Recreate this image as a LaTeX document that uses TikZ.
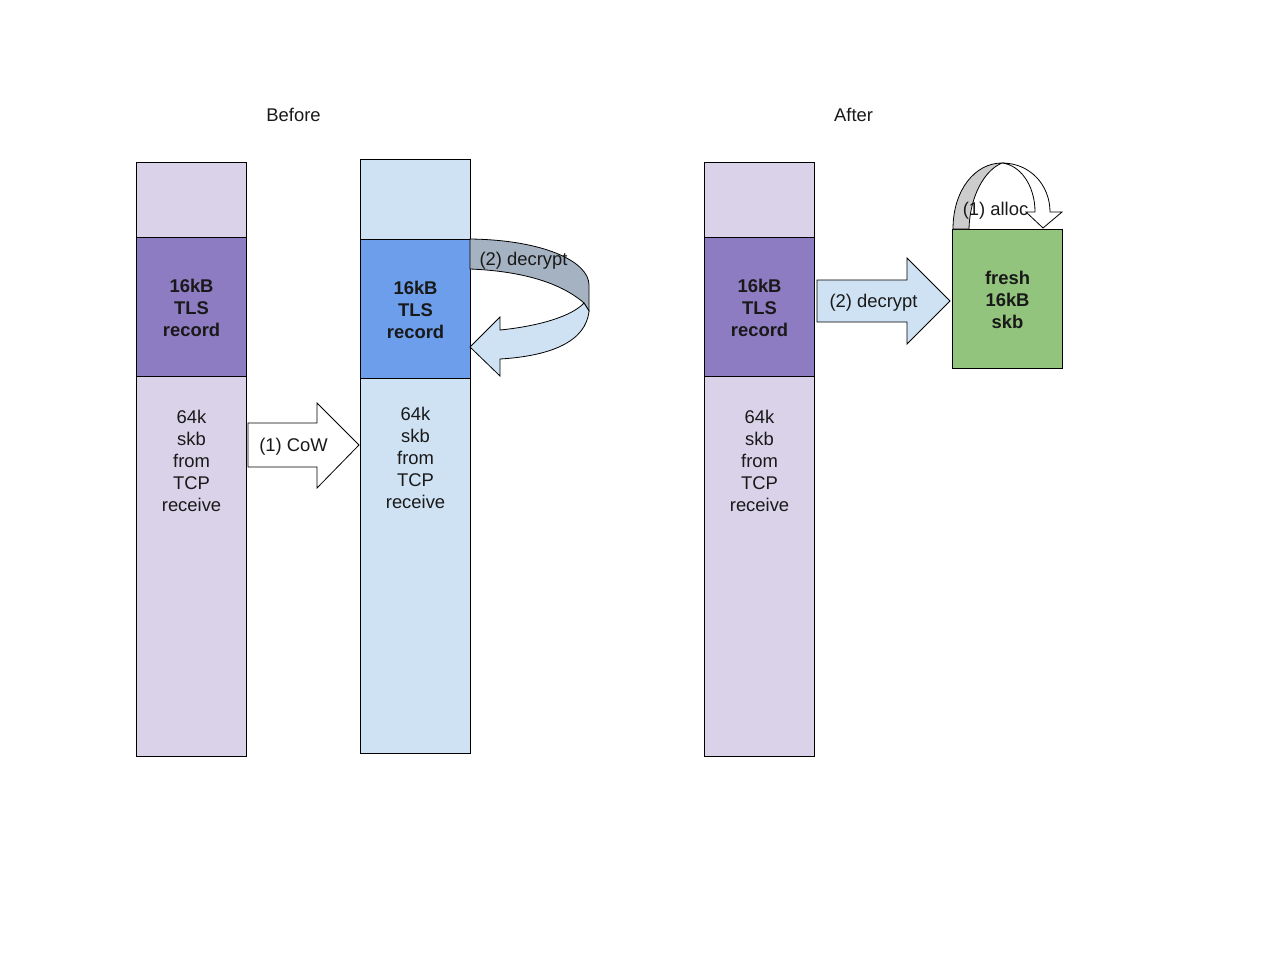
\documentclass[tikz,border=0pt]{standalone}
\usepackage{fontspec}
\setmainfont{Liberation Sans}
\begin{document}
\begin{tikzpicture}[x=0.75pt,y=-0.75pt,
  every node/.style={font=\fontsize{13.8pt}{16.5pt}\selectfont, text=black!90},
  seg/.style={draw=black, line width=0.6pt, anchor=north west, minimum width=82.5pt, inner sep=0pt},
  lbl/.style={align=center, inner sep=0pt, xshift=0.4pt, yshift=-0.5pt},
  blbl/.style={align=center, inner sep=0pt, xshift=0.4pt, yshift=-0.5pt, font=\fontsize{13.8pt}{16.5pt}\selectfont\bfseries},
  shp/.style={draw=black, line width=0.6pt, line join=miter}]
\useasboundingbox (0,0) rectangle (1280,960);
\definecolor{lpurple}{HTML}{D9D2E9}
\definecolor{dpurple}{HTML}{8E7CC3}
\definecolor{lblue}{HTML}{CFE2F3}
\definecolor{mblue}{HTML}{6D9EEB}
\definecolor{lgreen}{HTML}{93C47D}
\definecolor{bgray}{HTML}{A4B2C1}
\definecolor{lgray}{HTML}{CCCCCC}

\node[lbl] (before) at (293,114) {Before};
\node[lbl] (after) at (853,114) {After};

% column 1
\node[seg, fill=lpurple, minimum height=56.25pt] (c1t) at (136,162) {};
\node[seg, fill=dpurple, minimum height=104.25pt] (c1m) at (136,237) {};
\node[seg, fill=lpurple, minimum height=285pt] (c1b) at (136,376) {};
\node[blbl] (c1mt) at (191,307) {16kB\\TLS\\record};
\node[lbl] (c1bt) at (191,460) {64k\\skb\\from\\TCP\\receive};

% column 2
\node[seg, fill=lblue, minimum height=60pt] (c2t) at (360,159) {};
\node[seg, fill=mblue, minimum height=104.25pt] (c2m) at (360,239) {};
\node[seg, fill=lblue, minimum height=281.25pt] (c2b) at (360,378) {};
\node[blbl] (c2mt) at (415,309) {16kB\\TLS\\record};
\node[lbl] (c2bt) at (415,457) {64k\\skb\\from\\TCP\\receive};

% column 3
\node[seg, fill=lpurple, minimum height=56.25pt] (c3t) at (704,162) {};
\node[seg, fill=dpurple, minimum height=104.25pt] (c3m) at (704,237) {};
\node[seg, fill=lpurple, minimum height=285pt] (c3b) at (704,376) {};
\node[blbl] (c3mt) at (759,307) {16kB\\TLS\\record};
\node[lbl] (c3bt) at (759,460) {64k\\skb\\from\\TCP\\receive};

% (1) CoW block arrow
\draw[shp, fill=white] (248,423) -- (317,423) -- (317,403) -- (359,445) -- (317,488) -- (317,467) -- (248,467) -- cycle;
\node[lbl] (cow) at (293,446) {(1) CoW};

% (2) decrypt curved arrow (before)
\draw[shp, fill=bgray] (470,239) .. controls (545,240) and (589,262) .. (589,285) -- (589,311)
   -- (584,303) .. controls (560,282) and (520,271) .. (470,269) -- cycle;
\draw[shp, fill=lblue] (589,311) .. controls (586,342) and (550,356) .. (500,359) -- (500,376) -- (470,347)
   -- (500,317) -- (500,330) .. controls (540,326) and (572,316) .. (584,303) -- cycle;
\node[lbl] (dec1) at (523,260) {(2) decrypt};

% green box
\node[seg, fill=lgreen, minimum height=104.25pt] (fresh) at (952,229) {};
\node[blbl] (fresht) at (1007,299) {fresh\\16kB\\skb};

% (1) alloc curved arrow
\draw[shp, fill=lgray] (953,229) .. controls (953,190) and (975,163) .. (1002,163)
   .. controls (985,170) and (970,195) .. (969,229) -- cycle;
\draw[shp, fill=white] (1002,163) .. controls (1030,163) and (1050,185) .. (1050,212) -- (1062,212) -- (1043,228)
   -- (1026,212) -- (1035,212) .. controls (1035,185) and (1020,165) .. (1002,163) -- cycle;
\node[lbl] (alloc) at (995,210) {(1) alloc};

% (2) decrypt block arrow (after)
\draw[shp, fill=lblue] (817,280) -- (907,280) -- (907,258) -- (950,301) -- (907,344) -- (907,322) -- (817,322) -- cycle;
\node[lbl] (dec2) at (873,302) {(2) decrypt};
\end{tikzpicture}
\end{document}
